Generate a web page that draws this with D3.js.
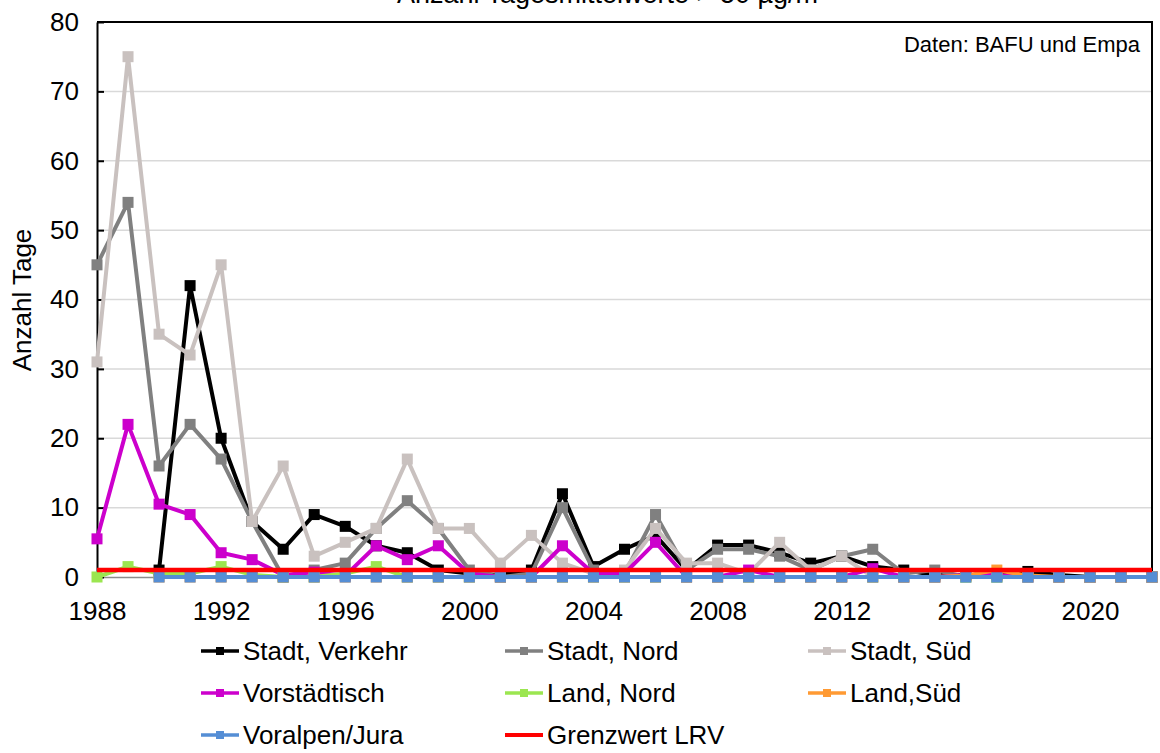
<!DOCTYPE html>
<html>
<head>
<meta charset="utf-8">
<script src="https://cdn.jsdelivr.net/npm/d3@7"></script>
<style>
  body { margin: 0; background: #fff; }
  svg { display: block; font-family: "Liberation Sans", Arial, sans-serif; }
</style>
</head>
<body>
<svg id="chart" width="1160" height="753"></svg>
<script>
// Years on the x axis
const years = d3.range(1988, 2023);
const xTicks = [1988, 1992, 1996, 2000, 2004, 2008, 2012, 2016, 2020];
const yTicks = [0, 10, 20, 30, 40, 50, 60, 70, 80];

// Days per year with daily mean > 50 µg/m³ (null = no data)
const stadtVerkehr = [null, null, 1, 42, 20, 8, 4, 9, 7.3, 4.5, 3.5, 1, 0.5, 0.3, 1, 12, 1.5, 4, 6, 1,
  4.6, 4.6, 3.5, 2, 3, 1.5, 1, 0.3, 0.3, 0.3, 0.8, 0.3, 0, 0, 0];
const stadtNord = [45, 54, 16, 22, 17, 8, 0, 1, 2, 7, 11, 7, 1, 0, 0.5, 10, 1, 0.5, 9, 1,
  4, 4, 3, 1, 3, 4, 0.5, 1, 0, 0, 0, 0, 0, 0, 0];
const stadtSued = [31, 75, 35, 32, 45, 8, 16, 3, 5, 7, 17, 7, 7, 2, 6, 2, 0.5, 1, 7, 2,
  2, 0.5, 5, 1, 3, 0, 0, 0, 0, 0, 0, 0, 0, 0, 0];
const vorstaedtisch = [5.5, 22, 10.5, 9, 3.5, 2.5, 0.3, 0.7, 0.2, 4.5, 2.5, 4.5, 0.5, 0, 0, 4.5, 0.5, 0.5, 5, 0,
  0, 1, 0, 0, 0, 1.2, 0, 0, 0.3, 0.3, 0, 0, 0, 0, 0];
const landNord = [0, 1.5, 0.5, 0.5, 1.5, 0.3, 0, 0, 0.5, 1.5, 0, 0, 0, 0, 0, 0, 0, 0, 0, 0,
  0, 0, 0, 0, 0, 0, 0, 0, 0, 0, 0, 0, 0, 0, 0];
const landSued = [null, null, 0, 0, 0, 0, 0, 0, 0, 0, 0, 0, 0, 0, 0, 0, 0, 0, 0, 0,
  0, 0, 0, 0, 0, 0, 0, 0, 0.2, 1, 0.2, 0, 0, 0, 0];
const voralpenJura = [null, null, 0, 0, 0, 0, 0, 0, 0, 0, 0, 0, 0, 0, 0, 0, 0, 0, 0, 0,
  0, 0, 0, 0, 0, 0, 0, 0, 0, 0, 0, 0, 0, 0, 0];
const grenzwert = years.map(() => 1);

const seriesNames = ['Stadt, Verkehr', 'Stadt, Nord', 'Stadt, Süd', 'Vorstädtisch',
  'Land, Nord', 'Land,Süd', 'Voralpen/Jura', 'Grenzwert LRV'];
const seriesValues = [stadtVerkehr, stadtNord, stadtSued, vorstaedtisch,
  landNord, landSued, voralpenJura, grenzwert];
const seriesColors = ['#000000', '#808080', '#c9c1bf', '#cc00cc',
  '#9be650', '#ff9a33', '#558ed5', '#ff0000'];

const width = 1160;
const height = 753;
const margin = {top: 22, right: 8, bottom: 176, left: 97};

const svg = d3.select('#chart');

const x = d3.scaleLinear()
  .domain([1988, 2022])
  .range([margin.left, width - margin.right]);
const y = d3.scaleLinear()
  .domain([0, 80])
  .range([height - margin.bottom, margin.top]);

// Gridlines
svg.append('g')
  .selectAll('line')
  .data(yTicks.filter((d) => d > 0 && d < 80))
  .join('line')
  .attr('x1', margin.left)
  .attr('x2', width - margin.right)
  .attr('y1', (d) => y(d))
  .attr('y2', (d) => y(d))
  .attr('stroke', '#d9d9d9')
  .attr('stroke-width', 1.5);

// x axis (grey line, ticks below)
const xAxis = svg.append('g')
  .attr('transform', `translate(0, ${y(0)})`)
  .call(d3.axisBottom(x).tickValues(xTicks).tickFormat(d3.format('d')).tickSize(5).tickSizeOuter(0));
xAxis.select('.domain').attr('stroke', '#8c8c8c').attr('stroke-width', 1.5);
xAxis.selectAll('.tick line').attr('stroke', '#8c8c8c').attr('stroke-width', 1.5);
xAxis.selectAll('.tick text')
  .attr('y', 43)
  .attr('dy', null)
  .attr('font-size', '26px')
  .attr('font-family', '"Liberation Sans", Arial, sans-serif')
  .attr('fill', '#000');

// y axis (black line, ticks inside)
const yAxis = svg.append('g')
  .attr('transform', `translate(${margin.left}, 0)`)
  .call(d3.axisLeft(y).tickValues(yTicks).tickSize(-7).tickSizeOuter(0).tickPadding(18));
yAxis.select('.domain').attr('stroke', '#000').attr('stroke-width', 2);
yAxis.selectAll('.tick line').attr('stroke', '#000').attr('stroke-width', 2);
yAxis.selectAll('.tick text')
  .attr('font-size', '26px')
  .attr('font-family', '"Liberation Sans", Arial, sans-serif')
  .attr('fill', '#000');

// Plot frame top and right
svg.append('path')
  .attr('d', `M${margin.left},${margin.top}H${width - margin.right}V${y(0)}`)
  .attr('fill', 'none')
  .attr('stroke', '#000')
  .attr('stroke-width', 2);

// Series
const line = d3.line()
  .defined((d) => d.v !== null)
  .x((d) => x(d.year))
  .y((d) => y(d.v));

seriesValues.forEach((values, i) => {
  const pts = years.map((year, k) => ({year, v: values[k]}));
  const g = svg.append('g');
  g.append('path')
    .datum(pts)
    .attr('d', line)
    .attr('fill', 'none')
    .attr('stroke', seriesColors[i])
    .attr('stroke-width', i === 7 ? 4.5 : 4)
    .attr('stroke-linejoin', 'round');
  if (i === 7) return;
  g.selectAll('rect')
    .data(pts.filter((d) => d.v !== null))
    .join('rect')
    .attr('x', (d) => x(d.year) - 5.5)
    .attr('y', (d) => y(d.v) - 5.5)
    .attr('width', 11)
    .attr('height', 11)
    .attr('fill', seriesColors[i]);
});

// Title (mostly cut off at the top edge, as in the original)
svg.append('text')
  .attr('x', 612)
  .attr('y', 3)
  .attr('text-anchor', 'middle')
  .attr('font-size', '27px')
  .text('Anzahl Tagesmittelwerte > 50 µg/m³');

// Source note
svg.append('text')
  .attr('x', 1140)
  .attr('y', 52)
  .attr('text-anchor', 'end')
  .attr('font-size', '22px')
  .text('Daten: BAFU und Empa');

// y axis label
svg.append('text')
  .attr('transform', 'translate(31, 300) rotate(-90)')
  .attr('text-anchor', 'middle')
  .attr('font-size', '26px')
  .text('Anzahl Tage');

// Legend: 3 columns
const legendCols = [201, 505, 808];
const legendRows = [651, 693, 735];
const legend = svg.append('g')
  .selectAll('g')
  .data(seriesNames)
  .join('g')
  .attr('transform', (d, i) => `translate(${legendCols[i % 3]}, ${legendRows[Math.floor(i / 3)]})`);
legend.append('line')
  .attr('x1', 0)
  .attr('x2', 38)
  .attr('stroke', (d, i) => seriesColors[i])
  .attr('stroke-width', (d, i) => (i === 7 ? 4 : 3.5));
legend.filter((d, i) => i !== 7)
  .append('rect')
  .attr('x', 15)
  .attr('y', -4)
  .attr('width', 8)
  .attr('height', 8)
  .attr('fill', (d) => seriesColors[seriesNames.indexOf(d)]);
legend.append('text')
  .attr('x', 42)
  .attr('dy', '0.35em')
  .attr('font-size', '26px')
  .text((d) => d);
</script>
</body>
</html>
